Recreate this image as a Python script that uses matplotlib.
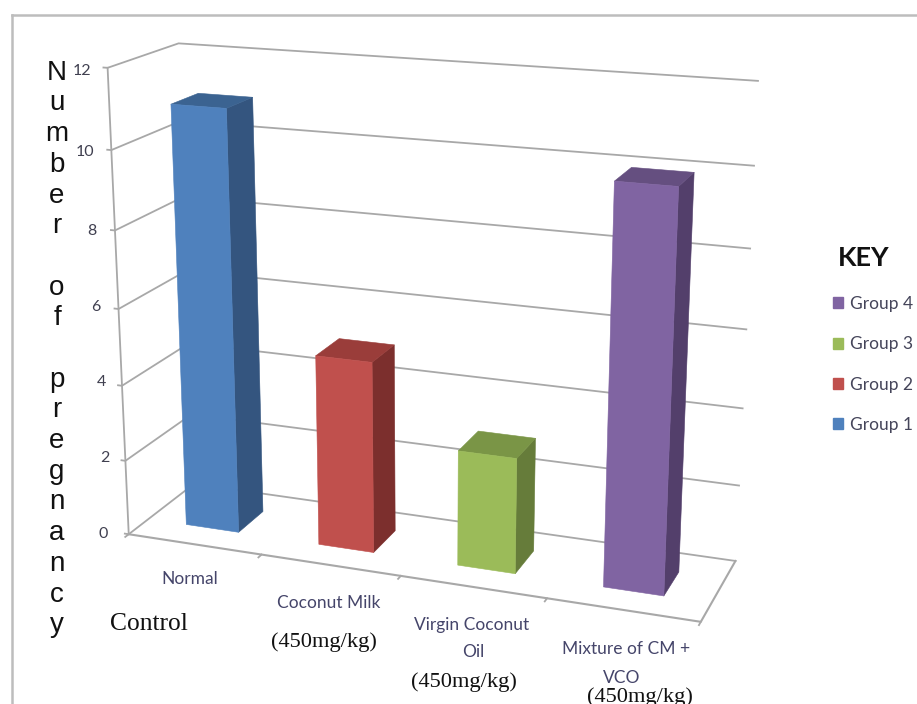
import matplotlib
matplotlib.use("Agg")
import matplotlib.pyplot as plt
from matplotlib.lines import Line2D
from matplotlib.patches import Patch
from mpl_toolkits.mplot3d.art3d import Poly3DCollection

# Values per group
groups = ["Group 1", "Group 2", "Group 3", "Group 4"]
pregnancies = [11, 5, 3, 10]
z_ticks = [0, 2, 4, 6, 8, 10, 12]
front_colors = ["#4F81BD", "#C0504D", "#9BBB59", "#8064A2"]
top_colors = ["#3B6391", "#9A3D3A", "#7A9546", "#654F80"]
side_colors = ["#34557F", "#7C2F2D", "#667C3A", "#533F6B"]

W, H = 917, 704
GRID = "#A8A8A8"


def px(x, y):
    # pixel position from the top left corner to figure coordinates
    return x / W, 1 - y / H


def add_bar(ax, i, height, width=0.40, gap=0.285, y0=0.3, y1=0.7):
    x0 = i + gap
    x1 = x0 + width
    front = [(x0, y0, 0), (x1, y0, 0), (x1, y0, height), (x0, y0, height)]
    side = [(x1, y0, 0), (x1, y1, 0), (x1, y1, height), (x1, y0, height)]
    top = [(x0, y0, height), (x1, y0, height), (x1, y1, height), (x0, y1, height)]
    for verts, color in ((side, side_colors[i]), (top, top_colors[i]), (front, front_colors[i])):
        poly = Poly3DCollection([verts], facecolors=color, edgecolors=color, linewidths=0.4)
        poly.set_zorder(5 + i)
        ax.add_collection3d(poly)


fig = plt.figure(figsize=(W / 100, H / 100), dpi=100, facecolor="white")

# 3D axes sized so the chart box sits where it should in the figure
size = 778.5
ax = fig.add_axes([27.66 / W, -14.79 / H, size / W, size / H], projection="3d")
ax.computed_zorder = False
ax.set_axis_off()
ax.patch.set_alpha(0)
ax.set_xlim(0, 4, view_margin=0)
ax.set_ylim(0, 1, view_margin=0)
ax.set_zlim(0, 12, view_margin=0)
ax.view_init(elev=17.053, azim=-69.647, roll=0)
ax.set_proj_type("persp", focal_length=0.4964)
ax.set_box_aspect((1, 0.25, 0.8069))

# Gridlines on the left and back walls, plus short tick stubs
for z in z_ticks:
    ax.plot([-0.03, 0, 0, 4], [0, 0, 1, 1], [z, z, z, z], color=GRID, lw=1.3, zorder=1)

# Floor outline and vertical axis
ax.plot([0, 4, 4], [0, 0, 1], [0, 0, 0], color=GRID, lw=1.5, zorder=1)
ax.plot([0, 0], [0, 0], [0, 12], color=GRID, lw=1.3, zorder=1)
for x in range(0, 5):
    ax.plot([x, x], [-0.05, 0], [0, 0], color=GRID, lw=1.3, zorder=1)

for i, value in enumerate(pregnancies):
    add_bar(ax, i, value)

# Value axis labels
tick_x = [103, 105, 101, 96, 92, 85, 82]
tick_y = [534, 458, 382, 307, 231, 152, 71]
for z, x, y in zip(z_ticks, tick_x, tick_y):
    fig.text(*px(x, y), str(z), ha="center", va="center", fontsize=11.5,
             family="Lato", color="#404050")

# Category labels
label_font = dict(family="Lato", fontsize=12.5, color="#45456A", ha="center", va="center")
cat_labels = [
    ("Normal", 190, 579),
    ("Coconut Milk", 329, 603),
    ("Virgin Coconut", 472, 625),
    ("Oil", 473, 652),
    ("Mixture of CM +", 626, 649),
    ("VCO", 622, 678),
]
for text, x, y in cat_labels:
    fig.text(*px(x, y), text, **label_font)

# Dose annotations
serif_font = dict(family="Liberation Serif", color="#111111", ha="center", va="center")
fig.text(*px(149, 624), "Control", fontsize=18.4, **serif_font)
for x, y in ((324, 642), (464, 682), (640, 697)):
    fig.text(*px(x, y), "(450mg/kg)", fontsize=16.1, **serif_font)

# Stacked y axis title
ylabel = "\n".join(["N", "u", "m", "b", "e", "r", "", "o", "f", "", "p", "r", "e", "g", "n", "a", "n", "c", "y"])
fig.text(*px(57, 349), ylabel, family="Liberation Sans", fontsize=20, color="#111111",
         ha="center", va="center", linespacing=1.235)

# Key
fig.text(*px(864, 258), "KEY", family="Lato", fontweight="bold", fontsize=19.5, color="#111111",
         ha="center", va="center")
handles = [Patch(facecolor=c, edgecolor=c) for c in front_colors[::-1]]
fig.legend(handles, groups[::-1], loc="upper left", bbox_to_anchor=px(826, 289), frameon=False,
           handlelength=0.58, handleheight=0.58, handletextpad=0.4, labelspacing=1.4,
           prop={"family": "Lato", "size": 12.5}, labelcolor="#45455A", borderaxespad=0)

# Chart frame on the top and left
for xs, ys in (((12, 917), (15, 15)), ((12, 12), (15, 704))):
    fig.add_artist(Line2D([x / W for x in xs], [1 - y / H for y in ys], color="#BDBDBD", lw=1.8))

fig.savefig("out.png", dpi=100)
